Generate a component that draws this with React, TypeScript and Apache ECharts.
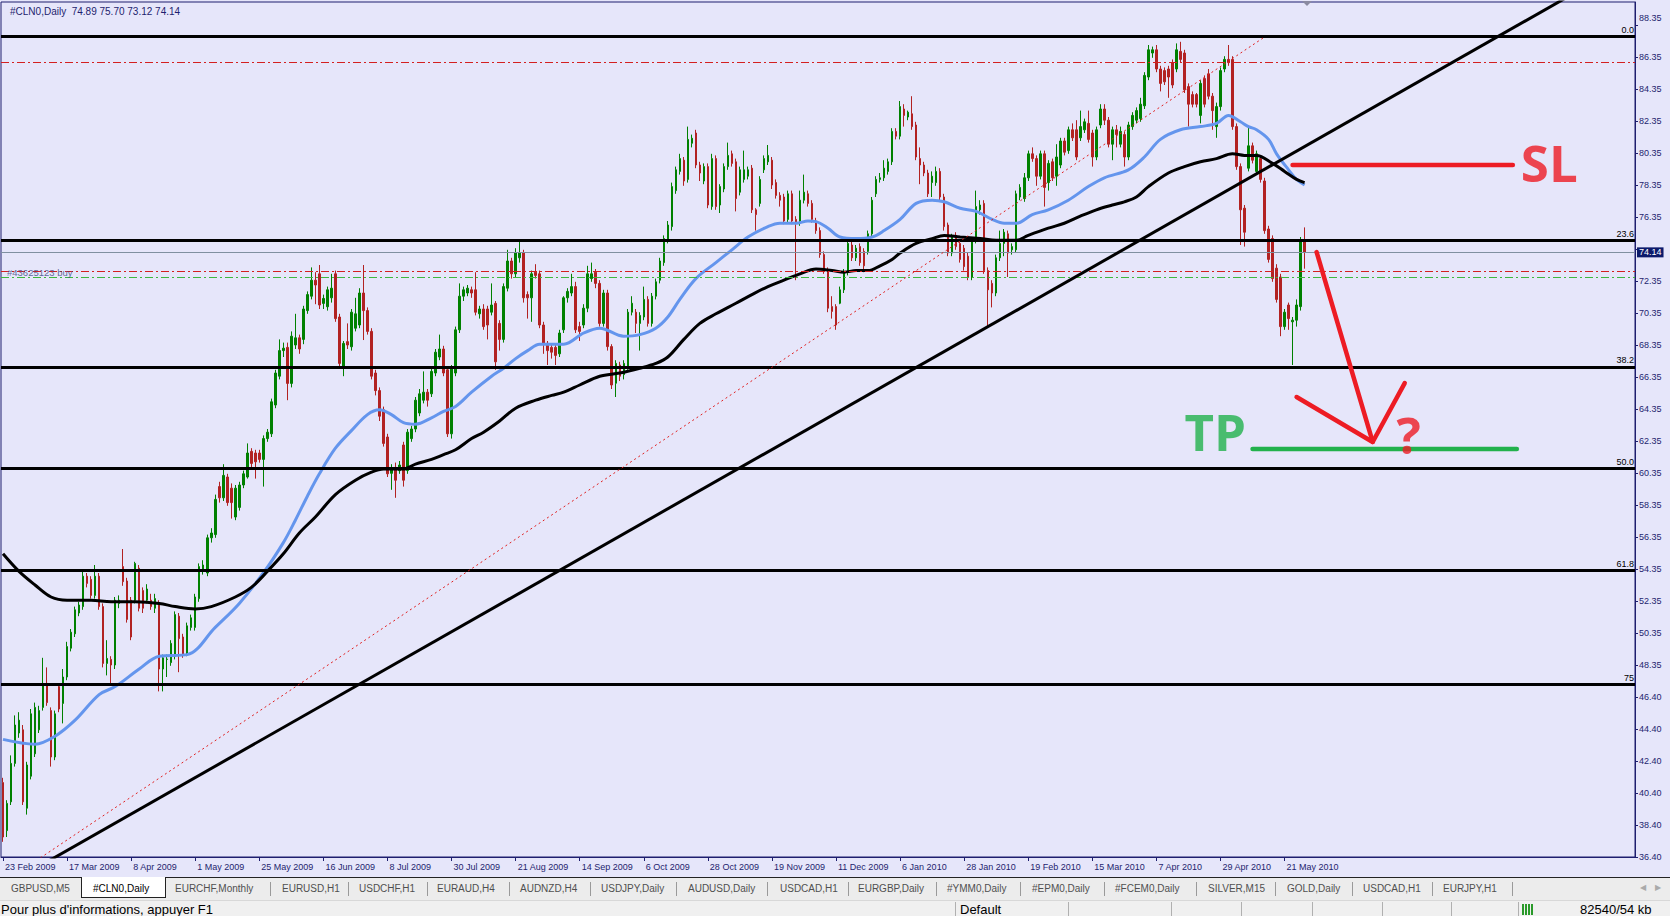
import React, { useEffect, useRef } from "react";
import * as echarts from "echarts";

// ---------------- DATA ----------------
const SYMBOL = "#CLN0,Daily";
const ORDER_LABEL = "#43625123 buy";

const xTickLabels = [
  "23 Feb 2009", "17 Mar 2009", "8 Apr 2009", "1 May 2009", "25 May 2009", "16 Jun 2009",
  "8 Jul 2009", "30 Jul 2009", "21 Aug 2009", "14 Sep 2009", "6 Oct 2009", "28 Oct 2009",
  "19 Nov 2009", "11 Dec 2009", "6 Jan 2010", "28 Jan 2010", "19 Feb 2010", "15 Mar 2010",
  "7 Apr 2010", "29 Apr 2010", "21 May 2010",
];
const BARS_PER_LABEL = 16;
const TOTAL_SLOTS = 408;

// right-axis tick labels, from the bottom (36.35 + 2k)
const Y_BASE = 36.35;
const Y_TOP = 89.7875;
const Y_STEP = 2;
const yTickLabels = [
  "36.40", "38.40", "40.40", "42.40", "44.40", "46.40", "48.35", "50.35", "52.35", "54.35",
  "56.35", "58.35", "60.35", "62.35", "64.35", "66.35", "68.35", "70.35", "72.35", "",
  "76.35", "78.35", "80.35", "82.35", "84.35", "86.35", "88.35",
];

// daily candles: [open, close, low, high]
const candles: [number, number, number, number][] = [
  [41.0,37.6,37.3,41.3],[38.0,39.7,37.6,39.9],[39.8,42.2,39.6,42.7],[42.2,44.6,42.0,45.2],[44.1,44.9,43.8,45.4],[44.3,39.8,39.6,44.6],[39.4,42.1,39.0,42.3],[41.4,45.3,41.2,45.6],[42.8,45.7,42.6,46.0],[44.3,45.5,44.1,45.8],
  [45.7,47.2,45.5,48.8],[47.2,46.0,45.8,48.2],[45.5,42.6,42.0,45.7],[42.6,45.3,42.4,45.5],[47.0,45.6,45.4,47.2],[45.95,47.6,44.7,48.1],[47.6,49.5,47.4,49.8],[49.4,50.4,49.2,50.6],[50.3,51.8,50.1,52.0],[51.6,52.1,51.4,52.3],
  [52.0,53.9,51.8,54.2],[53.9,53.45,53.2,54.1],[53.7,52.7,52.5,53.9],[52.7,53.9,52.5,54.6],[53.9,52.0,51.8,54.1],[52.0,48.45,48.2,52.2],[48.45,48.76,47.7,49.9],[48.7,48.35,47.2,48.9],[48.35,52.4,48.1,52.6],[52.2,52.4,51.9,52.7],
  [54.5,53.56,53.3,55.6],[53.6,51.2,51.0,53.8],[52.4,50.1,49.9,52.6],[52.4,54.7,52.2,54.8],[54.4,51.9,51.7,54.6],[53.0,51.9,51.6,53.2],[52.4,53.1,52.2,53.4],[52.4,52.0,51.8,52.8],[51.9,52.5,51.6,52.8],[52.2,48.1,46.7,52.4],
  [48.1,48.8,46.7,49.0],[48.7,48.72,47.6,49.0],[48.5,49.7,48.3,49.9],[48.9,51.5,48.7,51.7],[51.4,50.0,47.9,51.6],[50.1,49.0,48.8,50.3],[49.1,50.8,48.9,51.0],[50.7,51.3,50.5,51.5],[50.7,52.6,50.5,52.8],[52.5,54.5,52.3,54.7],
  [54.2,54.6,54.0,54.9],[54.1,56.3,53.9,56.5],[56.3,56.6,56.0,56.9],[56.5,58.7,56.3,59.0],[59.5,58.8,58.5,59.8],[58.8,60.2,58.6,60.9],[60.1,58.5,58.3,60.3],[59.4,58.5,57.5,59.7],[57.6,59.4,57.4,59.6],[58.2,59.6,58.0,59.8],
  [59.6,60.3,59.4,60.5],[60.1,61.6,60.0,62.2],[61.7,60.95,60.7,61.9],[61.6,61.05,60.0,61.8],[61.6,61.2,61.0,61.8],[61.2,62.5,59.5,62.7],[62.5,62.9,62.3,63.1],[62.8,64.8,62.6,65.0],[64.6,66.6,64.4,66.8],[66.4,68.0,66.2,68.7],
  [68.0,68.15,67.6,68.5],[68.2,65.95,64.9,68.5],[65.95,68.9,65.7,69.2],[68.35,68.8,68.1,70.3],[68.8,68.1,67.8,69.0],[68.7,70.6,68.4,70.8],[70.5,71.5,70.3,71.7],[71.4,72.4,71.2,73.2],[72.4,72.1,70.9,72.9],[72.8,70.85,70.6,73.35],
  [70.95,71.26,70.6,71.5],[70.74,71.8,70.5,72.0],[71.3,71.9,71.0,72.8],[72.8,70.0,69.8,73.0],[70.1,67.2,66.9,70.3],[67.0,68.45,66.4,68.6],[68.56,68.35,68.1,69.7],[68.24,70.4,68.0,70.6],[69.4,70.3,69.2,71.3],[69.6,71.6,69.4,71.9],
  [71.6,70.5,68.66,73.35],[70.5,69.2,69.0,70.7],[69.2,66.4,66.2,69.4],[66.6,65.5,65.2,66.8],[65.5,63.9,63.6,65.7],[64.3,62.2,62.0,64.5],[62.6,60.3,60.1,62.8],[60.33,60.64,59.3,60.9],[60.7,59.9,58.8,61.0],[60.5,60.85,60.3,61.1],
  [62.1,59.9,59.5,62.3],[60.5,62.9,60.3,63.1],[62.5,63.1,62.3,63.3],[63.1,64.9,62.9,65.1],[64.1,65.3,63.9,65.6],[64.9,65.4,64.7,66.7],[65.4,64.9,64.5,65.6],[65.3,66.7,65.1,66.9],[66.6,67.9,66.4,68.1],[67.6,68.1,67.4,69.0],
  [68.1,66.6,66.4,68.3],[66.8,62.8,62.6,67.0],[62.8,66.9,62.5,67.1],[66.6,69.3,66.4,69.5],[69.3,71.4,69.1,72.2],[71.4,71.8,71.1,72.0],[71.6,71.9,71.4,72.1],[71.8,71.6,71.3,72.0],[71.8,70.4,70.2,72.9],[70.3,70.6,70.0,70.8],
  [70.6,69.5,69.3,70.9],[70.6,69.6,68.7,70.8],[70.4,70.85,70.2,72.2],[70.95,67.3,66.8,71.1],[69.7,68.7,68.0,69.9],[68.7,72.0,68.5,72.2],[71.9,73.6,71.7,74.3],[73.6,72.8,72.5,73.8],[72.8,74.1,72.6,74.4],[73.8,74.1,73.5,74.9],
  [74.1,71.3,71.0,74.3],[71.5,71.3,70.0,71.7],[71.3,72.8,69.8,73.0],[72.9,72.7,72.5,73.4],[72.8,69.6,69.4,73.0],[69.6,68.45,67.8,69.8],[68.45,68.0,67.1,68.6],[68.2,67.9,67.5,68.4],[68.2,67.7,67.1,68.4],[67.8,69.1,67.6,69.3],
  [69.3,71.3,69.1,71.4],[71.3,71.7,71.0,71.9],[71.6,72.0,71.4,72.8],[72.0,69.3,69.1,72.3],[69.5,69.2,68.6,69.8],[69.6,70.65,69.4,70.9],[70.65,72.8,70.4,73.3],[72.5,72.8,72.3,73.5],[72.9,72.2,71.9,73.1],[72.2,69.7,69.5,72.4],
  [69.7,71.6,69.5,71.8],[71.6,68.25,68.0,71.8],[68.25,65.85,65.6,68.4],[65.96,67.2,65.1,67.4],[67.1,66.4,66.1,67.3],[66.5,67.2,66.2,67.4],[67.0,70.4,66.8,70.6],[70.4,70.96,70.2,71.4],[70.4,69.7,69.1,70.6],[69.7,70.2,68.0,70.4],
  [70.1,71.2,69.9,72.0],[71.2,69.7,69.5,71.4],[69.7,71.4,69.5,71.6],[71.4,72.3,71.2,72.5],[72.4,73.6,72.2,73.8],[73.5,75.0,73.3,75.2],[74.9,75.85,74.7,76.1],[75.75,78.25,75.5,78.5],[78.0,79.3,77.8,79.5],[79.2,80.0,79.0,80.3],
  [79.9,78.6,78.3,80.1],[78.7,81.2,78.5,82.0],[80.96,81.27,80.7,81.5],[81.6,79.6,79.4,81.8],[79.6,79.1,78.6,79.8],[78.6,79.5,78.4,79.7],[79.5,77.1,76.9,79.7],[77.0,80.0,76.8,80.3],[80.0,77.0,76.8,80.2],[77.1,78.25,76.6,78.4],
  [78.1,79.5,77.9,79.7],[79.5,80.2,79.3,81.0],[80.3,79.7,79.5,80.5],[79.8,77.5,76.7,80.0],[77.9,79.3,77.7,79.5],[78.7,79.3,78.5,80.5],[78.9,79.3,78.7,79.5],[79.4,76.8,76.6,79.6],[76.8,76.5,75.5,76.9],[77.2,78.7,77.0,78.9],
  [79.3,80.0,79.1,80.2],[79.8,80.2,79.6,80.85],[79.9,78.35,78.1,80.1],[78.5,77.7,77.5,78.7],[77.7,77.4,77.0,77.9],[77.6,76.1,75.9,77.8],[76.2,77.8,76.0,78.0],[77.8,76.1,75.9,78.0],[76.2,76.0,72.4,76.4],[76.0,77.4,75.8,78.0],
  [77.4,77.9,77.2,79.0],[77.8,77.2,77.0,78.0],[77.2,76.2,76.0,77.4],[76.1,75.5,75.3,76.3],[75.5,74.0,73.8,75.7],[74.0,73.0,72.8,74.2],[73.0,70.65,70.4,73.2],[70.75,70.45,70.0,71.4],[70.75,69.6,69.3,70.9],[70.96,71.8,70.9,72.0],
  [71.8,72.9,71.6,73.1],[72.9,74.7,72.7,74.9],[74.6,73.8,73.6,74.8],[73.8,74.4,73.6,74.6],[74.5,73.5,73.3,74.7],[74.2,73.3,72.9,74.4],[74.2,75.3,74.0,75.5],[75.3,77.4,75.1,77.6],[77.8,78.7,77.6,78.9],[78.7,78.8,78.5,79.1],
  [78.8,79.4,78.6,79.9],[79.2,79.8,79.0,80.0],[79.8,81.7,79.6,81.9],[81.7,81.4,81.2,81.9],[81.4,83.25,81.2,83.6],[83.1,82.7,82.0,83.4],[82.6,82.9,82.4,83.0],[82.8,82.0,81.8,83.9],[82.1,80.1,79.9,82.3],[80.0,79.6,78.4,80.7],
  [79.6,79.1,78.9,79.8],[79.1,77.8,77.6,79.3],[78.5,78.9,77.6,79.2],[78.5,79.2,78.3,79.5],[79.2,77.6,77.4,79.4],[77.6,75.75,75.5,77.8],[75.85,74.1,73.9,76.0],[74.1,75.1,73.9,75.3],[75.2,74.5,74.3,75.4],[74.7,73.7,73.5,74.9],
  [74.4,73.25,73.0,74.6],[73.9,72.6,72.4,74.1],[72.6,74.9,72.4,75.1],[74.9,77.0,74.7,78.0],[76.8,77.1,76.5,77.4],[77.2,73.0,72.8,77.4],[73.0,71.8,69.5,73.2],[72.2,71.6,70.7,72.4],[71.6,73.8,71.4,74.0],[73.8,74.7,73.6,75.5],
  [74.7,75.4,73.9,75.6],[75.3,74.1,72.6,75.5],[74.3,74.5,74.0,74.7],[74.3,77.8,74.1,78.0],[77.6,78.2,77.4,78.4],[77.5,78.8,77.3,79.1],[78.8,80.3,78.6,80.5],[80.3,80.0,79.8,80.7],[80.0,78.9,78.3,80.2],[78.9,80.3,78.7,80.5],
  [80.3,78.2,77.0,80.5],[78.5,79.7,78.0,79.9],[79.8,78.8,78.6,80.0],[78.9,80.1,78.3,80.9],[79.6,81.1,79.4,81.3],[81.1,80.4,80.2,81.3],[80.5,81.8,80.3,82.0],[81.8,81.3,81.1,82.2],[81.8,80.1,79.9,82.4],[81.3,82.0,81.1,83.0],
  [81.8,82.3,81.6,82.5],[82.2,81.2,81.0,83.0],[81.6,80.1,79.5,81.8],[80.1,81.8,79.9,82.0],[82.1,83.1,81.9,83.4],[83.1,82.4,82.1,83.4],[82.4,80.9,80.7,82.6],[80.9,81.8,79.9,82.0],[81.8,81.5,80.7,82.1],[80.9,81.7,80.7,82.0],
  [81.5,80.1,79.5,81.7],[80.1,82.1,79.9,82.3],[82.0,82.7,81.8,82.9],[82.4,83.0,82.2,83.2],[82.5,83.4,82.3,83.8],[83.3,85.2,83.1,85.4],[85.1,86.8,84.9,87.1],[86.6,86.8,86.3,87.0],[86.8,85.6,85.4,87.1],[85.6,84.7,84.2,85.8],
  [85.5,84.8,84.6,85.7],[85.6,85.1,83.8,85.8],[86.0,84.6,84.4,86.2],[85.6,86.8,85.4,87.2],[86.7,86.2,86.0,87.3],[86.6,84.3,84.1,86.8],[84.5,83.4,82.0,84.7],[84.0,83.4,83.2,84.2],[84.0,83.4,83.2,84.1],[82.7,84.7,82.2,84.9],
  [85.0,83.4,83.2,85.2],[85.3,83.9,83.7,85.6],[83.9,83.0,81.8,84.1],[82.0,83.25,81.3,83.5],[83.25,85.5,83.0,85.7],[85.6,86.2,85.4,86.4],[86.2,86.0,85.8,87.1],[86.2,82.0,81.8,86.4],[82.0,79.5,79.3,82.2],[79.5,76.8,74.6,79.7],
  [76.9,75.4,74.5,77.1],[79.4,80.8,79.2,82.1],[80.8,79.9,79.7,81.0],[79.2,80.3,79.0,80.5],[80.0,78.7,78.5,80.2],[78.6,75.5,75.3,78.8],[75.6,73.7,73.5,75.8],[75.0,72.5,72.3,75.2],[73.15,71.2,71.0,73.4],[72.6,69.5,68.9,72.8],
  [69.5,70.4,69.3,70.6],[70.85,70.0,69.3,71.0],[69.8,69.9,67.1,70.1],[69.9,70.85,69.5,71.2],[70.75,74.9,70.5,75.1],[74.89,74.14,73.12,75.70],
];

// moving averages: [bar index, price]
const fastMA: [number, number][] = [
  [0,43.7],[8,43.4],[13,43.9],[18,44.9],[24,46.5],[28,47.0],[34,48.1],[39,48.9],[46,49.0],[53,50.7],
  [59,52.2],[65,54.1],[70,56.0],[73,57.4],[76,58.9],[79,60.3],[83,61.9],[87,63.0],[91,64.0],[94,64.3],
  [97,64.0],[100,63.5],[103,63.4],[107,63.8],[110,64.2],[113,64.5],[117,65.4],[122,66.4],[125,66.9],[128,67.5],
  [131,68.0],[134,68.4],[137,68.4],[140,68.4],[145,69.1],[149,69.4],[155,68.9],[159,69.0],[163,69.4],[166,70.1],
  [169,71.2],[173,72.5],[178,73.5],[182,74.3],[186,75.1],[191,75.75],[194,75.96],[198,75.96],[201,76.1],[203,76.06],
  [206,75.65],[209,75.1],[213,75.0],[217,75.1],[220,75.5],[224,76.2],[228,77.2],[232,77.4],[235,77.3],[239,76.9],
  [243,76.7],[247,76.2],[250,75.96],[253,75.96],[257,76.5],[261,76.8],[266,77.4],[271,78.25],[275,78.8],[281,79.3],
  [285,80.1],[289,81.2],[294,81.8],[299,82.0],[303,82.2],[306,82.7],[309,82.3],[311,82.0],[313,81.8],[316,81.2],
  [318,80.3],[321,79.3],[323,78.7],[325,78.35],
];
const slowMA: [number, number][] = [
  [0,55.3],[4,54.2],[8,53.35],[12,52.6],[16,52.4],[22,52.4],[27,52.3],[33,52.3],[39,52.2],[43,52.0],
  [48,51.85],[52,52.0],[58,52.6],[62,53.2],[66,54.2],[70,55.3],[74,56.6],[78,57.6],[83,59.0],[88,59.9],
  [92,60.4],[95,60.6],[100,60.6],[103,60.9],[107,61.2],[110,61.5],[113,61.8],[117,62.5],[120,62.9],[124,63.6],
  [128,64.4],[133,64.9],[137,65.2],[140,65.4],[144,65.85],[149,66.4],[154,66.6],[159,66.9],[163,67.2],[166,67.6],
  [170,68.7],[174,69.7],[178,70.3],[183,70.96],[187,71.5],[191,72.0],[195,72.4],[199,72.8],[203,73.1],[207,73.0],
  [210,72.9],[213,73.0],[216,73.0],[219,73.3],[222,73.7],[224,74.1],[228,74.7],[232,75.0],[235,75.2],[239,75.1],
  [244,75.0],[248,74.9],[253,74.9],[256,75.2],[261,75.65],[265,75.96],[269,76.4],[273,76.8],[277,77.1],[280,77.3],
  [283,77.6],[286,78.25],[291,79.1],[295,79.5],[299,79.8],[303,80.0],[307,80.3],[310,80.2],[313,80.2],[317,79.7],
  [320,79.2],[323,78.7],[325,78.5],
];

// objects on the chart
const trendLine: [number, number][] = [[0, 34.48], [407, 92.43]];
const fibDiagonal: [number, number][] = [[0, 34.73], [315, 87.6]];
const fibLevels = [87.62, 74.87, 66.99, 60.62, 54.25, 47.12];
const fibLabels = ["0.0", "23.6", "38.2", "50.0", "61.8", "75"];
const takeProfitLevel = 86.02;
const stopLossLevel = 72.98;
const openPriceLevel = 72.56;
const orderLabelAt: [number, number] = [1.25, 72.86];

// hand-drawn annotations, in [bar index, price]
const slLine: [number, number][] = [[322.25, 79.6], [376.75, 79.6]];
const tpLine: [number, number][] = [[312.25, 61.85], [377.5, 61.85]];
const arrowShaft: [number, number][] = [[327.5, 74.16], [342.25, 62.29]];
const arrowHead: [number, number][] = [[322.5, 65.1], [342.25, 62.29], [350.25, 65.97]];
const slTextAt: [number, number] = [379.25, 79.76];
const tpTextAt: [number, number] = [294.5, 62.98];
const qTextAt: [number, number] = [351, 62.79];

const tabs = [
  "GBPUSD,M5", "#CLN0,Daily", "EURCHF,Monthly", "EURUSD,H1", "USDCHF,H1", "EURAUD,H4", "AUDNZD,H4",
  "USDJPY,Daily", "AUDUSD,Daily", "USDCAD,H1", "EURGBP,Daily", "#YMM0,Daily", "#EPM0,Daily",
  "#FCEM0,Daily", "SILVER,M15", "GOLD,Daily", "USDCAD,H1", "EURJPY,H1",
];
const tabLefts = [11, 93, 175, 282, 359, 437, 520, 601, 688, 780, 858, 947, 1032, 1115, 1208, 1287, 1363, 1443];
const tabSeps = [270, 348, 427, 509, 590, 676, 767, 848, 936, 1020, 1104, 1196, 1275, 1352, 1432, 1512];
const statusSeps = [955, 1068, 1171, 1241, 1312, 1382, 1451, 1518];

// ---------------- STYLE ----------------
const BG = "#E6E6FA";
const FG = "#1e1e6e";
const FONT = '"Liberation Sans", Arial, sans-serif';
const BULL = "#008000";
const BEAR = "#B22222";
const PAINT_RED = "#ED1C24";
const PAINT_GREEN = "#22B14C";
const CHART_H = 877;
const PLOT_BOTTOM = 857;

function buildOption(): any {
  const categories = Array.from({ length: TOTAL_SLOTS }, (_, i) => String(i));
  const isLabelIdx = (i: number) => i % BARS_PER_LABEL === 0 && i / BARS_PER_LABEL < xTickLabels.length;
  const last = candles[candles.length - 1];
  const header = `${SYMBOL}  ${last[0].toFixed(2)} ${last[3].toFixed(2)} ${last[2].toFixed(2)} ${last[1].toFixed(2)}`;
  const bid = last[1];

  const hLine = (v: number, color: string, width: number, type: any, label?: any) => ({
    yAxis: v,
    lineStyle: { color, width, type, opacity: 1 },
    label: label ? { show: true, ...label } : { show: false },
  });

  const markLines = [
    ...fibLevels.map((v, k) =>
      hLine(v, "#000", 3, "solid", {
        formatter: fibLabels[k], position: "insideEndTop", distance: [1, 2],
        color: "#000", fontSize: 9, fontFamily: FONT,
      })
    ),
    hLine(takeProfitLevel, "#D42020", 1, [8, 3, 2, 3]),
    hLine(stopLossLevel, "#D42020", 1, [8, 3, 2, 3]),
    hLine(openPriceLevel, "#3CB83C", 1, [8, 3, 2, 3]),
    hLine(bid, "#8090A0", 1, "solid", {
      formatter: bid.toFixed(2), position: "end", distance: 2,
      color: "#fff", backgroundColor: "#0c1a6b", padding: [1, 2, 0, 2],
      fontSize: 9, fontFamily: FONT,
    }),
  ];

  const annot = (data: [number, number][], color: string) => ({
    type: "line", data, symbol: "none", silent: true, z: 8, clip: false,
    lineStyle: { color, width: 4.5, cap: "round", join: "round" },
  });
  const textMark = (at: [number, number], text: string, color: string, align: string, size: number, weight: any, family: string, z: number) => ({
    type: "scatter", data: [at], symbolSize: 0, silent: true, z,
    itemStyle: { color: "transparent" },
    label: {
      show: true, position: "inside", formatter: text, align, verticalAlign: "middle",
      color, fontSize: size, fontWeight: weight, fontFamily: family,
      textBorderWidth: 0, textBorderColor: "transparent", textShadowBlur: 0,
    },
  });
  const PAINT_FONT = '"Open Sans", sans-serif';

  return {
    animation: false,
    backgroundColor: BG,
    title: {
      text: header, left: 5, top: 1,
      textStyle: { fontSize: 10, fontWeight: "normal", color: FG, fontFamily: FONT },
    },
    grid: {
      left: 1, right: 35, top: 2, bottom: CHART_H - PLOT_BOTTOM,
      show: true, borderColor: FG, borderWidth: 1, backgroundColor: "transparent",
    },
    xAxis: {
      type: "category", data: categories, boundaryGap: true,
      axisLine: { show: true, lineStyle: { color: FG, width: 1 } },
      axisTick: {
        show: true, alignWithLabel: true, length: 4, lineStyle: { color: FG },
        interval: (i: number) => isLabelIdx(i),
      },
      axisLabel: {
        interval: (i: number) => isLabelIdx(i),
        formatter: (_v: string, i: number) => (isLabelIdx(i) ? xTickLabels[i / BARS_PER_LABEL] : ""),
        align: "left", margin: 5, padding: [0, 0, 0, 2],
        color: FG, fontSize: 9, fontFamily: FONT,
      },
      splitLine: { show: false },
    },
    yAxis: [
      { type: "value", min: Y_BASE, max: Y_TOP, show: false, scale: true, splitLine: { show: false } },
      {
        type: "value", position: "right", min: 0, max: Y_TOP - Y_BASE, interval: Y_STEP,
        axisLine: { show: true, lineStyle: { color: FG } },
        axisTick: { show: true, length: 3, lineStyle: { color: FG } },
        splitLine: { show: false },
        axisLabel: {
          showMaxLabel: false, margin: 4, color: FG, fontSize: 9, fontFamily: FONT,
          formatter: (v: number) => {
            const k = Math.round(v / Y_STEP);
            if (Math.abs(v - k * Y_STEP) > 0.01) return "";
            const s = yTickLabels[k] ?? "";
            if (!s) return "";
            return k === yTickLabels.length - 1 ? `{top|${s}}` : s;
          },
          rich: { top: { color: FG, fontSize: 9, fontFamily: FONT, padding: [0, 0, 14, 0] } },
        },
      },
    ],
    graphic: [
      {
        type: "polygon", silent: true, z: 20,
        shape: { points: [[1302, 1], [1312, 1], [1307, 6]] },
        style: { fill: "#8a8aa0" },
      },
    ],
    series: [
      {
        type: "candlestick", data: candles, barWidth: 2, z: 2, silent: true,
        itemStyle: { color: BULL, color0: BEAR, borderColor: BULL, borderColor0: BEAR, borderWidth: 1 },
        markLine: { symbol: ["none", "none"], silent: true, animation: false, z: 5, data: markLines },
      },
      {
        type: "line", data: fastMA, smooth: 0.35, symbol: "none", silent: true, z: 4,
        lineStyle: { color: "#6495ED", width: 3 },
      },
      {
        type: "line", data: slowMA, smooth: 0.35, symbol: "none", silent: true, z: 4,
        lineStyle: { color: "#000", width: 3 },
      },
      {
        type: "line", data: trendLine, symbol: "none", silent: true, z: 6,
        lineStyle: { color: "#000", width: 3 },
      },
      {
        type: "line", data: fibDiagonal, symbol: "none", silent: true, z: 6,
        lineStyle: { color: "#E02020", width: 1, type: [2, 3] },
      },
      annot(slLine, PAINT_RED),
      annot(tpLine, PAINT_GREEN),
      annot(arrowShaft, PAINT_RED),
      annot(arrowHead, PAINT_RED),
      textMark(slTextAt, "SL", PAINT_RED, "left", 51, 700, PAINT_FONT, 9),
      textMark(tpTextAt, "TP", PAINT_GREEN, "left", 51, 700, PAINT_FONT, 9),
      textMark(qTextAt, "?", PAINT_RED, "center", 51, 700, PAINT_FONT, 9),
      textMark(orderLabelAt, ORDER_LABEL, "#3a4580", "left", 9.5, "normal", FONT, 7),
    ],
  };
}

export default function App() {
  const ref = useRef<HTMLDivElement>(null);
  useEffect(() => {
    document.body.style.margin = "0";
    const chart = echarts.init(ref.current!, null, { renderer: "svg" });
    chart.setOption(buildOption());
    return () => chart.dispose();
  }, []);

  return (
    <div style={{ position: "absolute", left: 0, top: 0, width: 1670, height: 916, overflow: "hidden", background: "#f0f0f0", fontFamily: FONT }}>
      <div ref={ref} style={{ position: "absolute", left: 0, top: 0, width: 1670, height: CHART_H }} />
      {/* tab bar */}
      <div style={{ position: "absolute", left: 0, top: CHART_H, width: 1670, height: 23, background: "#ececec", borderTop: "1px solid #222", boxSizing: "border-box", fontSize: 10 }}>
        <div style={{ position: "absolute", left: 81, top: -1, width: 85, height: 21, background: "#fff", border: "1px solid #222", borderTop: "none", boxSizing: "border-box" }} />
        {tabs.map((t, k) => (
          <span key={k} style={{ position: "absolute", left: tabLefts[k], top: 5, color: k === 1 ? "#000" : "#505050", whiteSpace: "nowrap" }}>{t}</span>
        ))}
        {tabSeps.map((x, k) => (
          <div key={k} style={{ position: "absolute", left: x, top: 4, width: 1, height: 14, background: "#9a9a9a" }} />
        ))}
        <span style={{ position: "absolute", left: 1640, top: 5, color: "#aaa", fontSize: 8 }}>◀</span>
        <span style={{ position: "absolute", left: 1655, top: 5, color: "#aaa", fontSize: 8 }}>▶</span>
      </div>
      {/* status bar */}
      <div style={{ position: "absolute", left: 0, top: CHART_H + 23, width: 1670, height: 916 - CHART_H - 23, background: "#f0f0f0", borderTop: "1px solid #d8d8d8", boxSizing: "border-box", fontSize: 13 }}>
        <span style={{ position: "absolute", left: 1, top: 1, color: "#000", whiteSpace: "nowrap" }}>Pour plus d'informations, appuyer F1</span>
        {statusSeps.map((x, k) => (
          <div key={k} style={{ position: "absolute", left: x, top: 1, width: 1, height: 15, background: "#b0b0b0" }} />
        ))}
        <span style={{ position: "absolute", left: 960, top: 1, color: "#000" }}>Default</span>
        <div style={{ position: "absolute", left: 1522, top: 3, width: 12, height: 11, background: "repeating-linear-gradient(90deg, #2a9a2a 0 2px, transparent 2px 3px)" }} />
        <span style={{ position: "absolute", left: 1580, top: 1, color: "#000", whiteSpace: "nowrap" }}>82540/54 kb</span>
      </div>
    </div>
  );
}
